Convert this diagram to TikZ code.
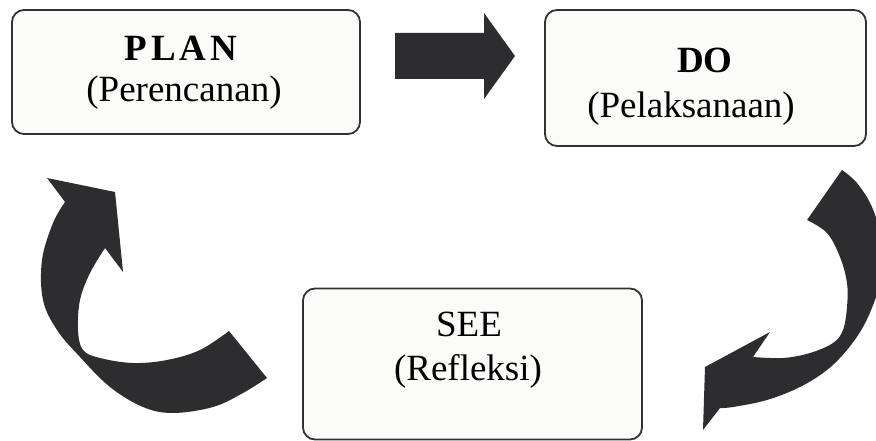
\documentclass[tikz,border=0pt]{standalone}
\usepackage{fontspec}
\setmainfont{Liberation Serif}
\definecolor{arrowgray}{RGB}{45,45,48}
\definecolor{boxline}{RGB}{50,50,50}
\definecolor{boxfill}{RGB}{251,252,250}

\begin{document}
\begin{tikzpicture}[x=1pt, y=-1pt,
        stage/.style={draw=boxline, line width=1.8pt, rounded corners=12pt, fill=boxfill, inner sep=0pt},
        title/.style={anchor=base, inner sep=0pt, font=\fontsize{37}{41}\selectfont\bfseries},
        subtitle/.style={anchor=base, inner sep=0pt, font=\fontsize{37}{41}\selectfont}]
        \useasboundingbox (0,0) rectangle (876,441);
        \clip (0,0) rectangle (876,441);

        \node[stage] (plan) at (186,72)    [minimum width=348pt, minimum height=124pt] {};
        \node[stage] (do)   at (705.5,78)  [minimum width=321pt, minimum height=136pt] {};
        \node[stage] (see)  at (472.5,364) [minimum width=339pt, minimum height=151pt] {};

        \node[title]    (plan_title) at (181,61)  {\addfontfeatures{LetterSpace=11}PLAN};
        \node[subtitle] (plan_name)  at (184,102) {(Perencanan)};
        \node[title]    (do_title)   at (705,73)  {DO};
        \node[subtitle] (do_name)    at (691,118) {(Pelaksanaan)};
        \node[subtitle] (see_title)  at (469,336) {SEE};
        \node[subtitle] (see_name)   at (468,380) {(Refleksi)};

        \fill[arrowgray] (395,33) -- (484,33) -- (484,13) -- (515,56) -- (484,99) -- (484,79) -- (395,79) -- cycle;

        \fill[arrowgray] (267,378)
            -- plot[smooth, tension=0.6] coordinates {(267,378) (243,393) (213,407) (173,413) (143,407) (110,387) (80,357) (57,330) (43,300) (42,260) (53,223) (65,202)}
            -- (47,178) -- (115,192) -- (123,272) -- (105,248)
            -- plot[smooth, tension=0.6] coordinates {(105,248) (90,273) (80,300) (78,330) (83,350) (100,358) (133,363) (167,360) (200,350) (229,331)}
            -- cycle;

        \fill[arrowgray] (842,170)
            -- plot[smooth, tension=0.6] coordinates {(842,170) (857,183) (872,207) (882,240) (884,270) (875,300) (863,327) (847,350) (827,370) (800,387) (767,400) (733,407) (720,408)}
            -- (703,430) -- (705,367) -- (770,332) -- (753,357)
            -- plot[smooth, tension=0.6] coordinates {(753,357) (783,358) (810,353) (833,343) (843,330) (847,307) (847,283) (840,257) (827,233) (807,220)}
            -- cycle;
\end{tikzpicture}
\end{document}
